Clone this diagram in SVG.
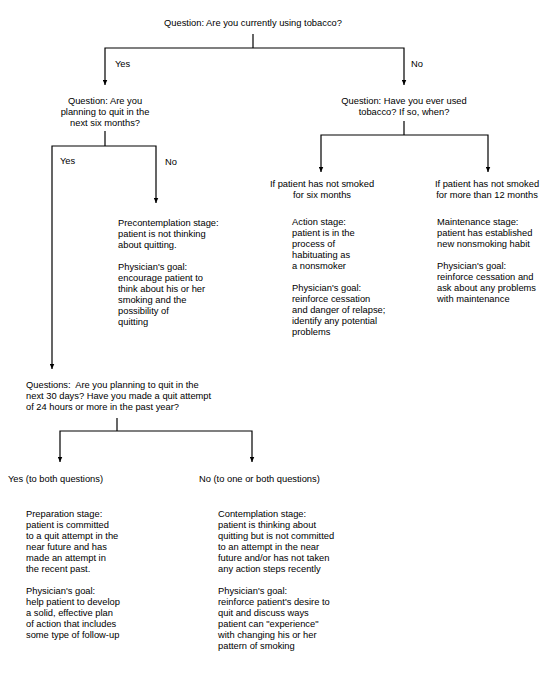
<svg xmlns="http://www.w3.org/2000/svg" width="554" height="681" viewBox="0 0 554 681">
<style>
text{font-family:"Liberation Sans",Arial,sans-serif;font-size:9.33px;fill:#000;white-space:pre}
.c{text-anchor:middle}
.ln{fill:none;stroke:#000;stroke-width:1.2}
</style>
<defs>
<marker id="ah" viewBox="0 0 6 6" refX="6" refY="3" markerWidth="5" markerHeight="5" markerUnits="userSpaceOnUse" orient="auto">
<path d="M0,0.3 L6,3 L0,5.7 z" fill="#000"/>
</marker>
</defs>
<rect width="554" height="681" fill="#fff"/>
<g id="connectors">
<path class="ln" d="M253,34 V48"/>
<path class="ln" d="M253,48 H105 V85" marker-end="url(#ah)"/>
<path class="ln" d="M253,48 H404 V85" marker-end="url(#ah)"/>
<path class="ln" d="M105,131 V146"/>
<path class="ln" d="M105,146 H52 V369" marker-end="url(#ah)"/>
<path class="ln" d="M105,146 H156 V203" marker-end="url(#ah)"/>
<path class="ln" d="M404,121 V135"/>
<path class="ln" d="M404,135 H321 V172" marker-end="url(#ah)"/>
<path class="ln" d="M404,135 H488 V172" marker-end="url(#ah)"/>
<path class="ln" d="M117,418 V431"/>
<path class="ln" d="M117,431 H60 V462" marker-end="url(#ah)"/>
<path class="ln" d="M117,431 H252 V462" marker-end="url(#ah)"/>
</g>
<g id="labels">
<text x="115" y="67">Yes</text>
<text x="411" y="67">No</text>
<text x="60" y="164">Yes</text>
<text x="165" y="165">No</text>
</g>
<g id="q-tobacco"><text class="c" x="253" y="26">Question: Are you currently using tobacco?</text></g>
<g id="q-six-months">
<text class="c" x="105" y="104">Question: Are you</text>
<text class="c" x="105" y="115">planning to quit in the</text>
<text class="c" x="105" y="126">next six months?</text>
</g>
<g id="q-ever-used">
<text class="c" x="404" y="104">Question: Have you ever used</text>
<text class="c" x="404" y="115">tobacco? If so, when?</text>
</g>
<g id="precontemplation">
<text x="118" y="226">Precontemplation stage:</text>
<text x="118" y="237">patient is not thinking</text>
<text x="118" y="248">about quitting.</text>
<text x="118" y="270">Physician's goal:</text>
<text x="118" y="281">encourage patient to</text>
<text x="118" y="292">think about his or her</text>
<text x="118" y="303">smoking and the</text>
<text x="118" y="314">possibility of</text>
<text x="118" y="325">quitting</text>
</g>
<g id="six-months">
<text class="c" x="322" y="187">If patient has not smoked</text>
<text class="c" x="322" y="198">for six months</text>
</g>
<g id="twelve-months">
<text class="c" x="487" y="187">If patient has not smoked</text>
<text class="c" x="487" y="198">for more than 12 months</text>
</g>
<g id="action">
<text x="292" y="225">Action stage:</text>
<text x="292" y="236">patient is in the</text>
<text x="292" y="247">process of</text>
<text x="292" y="258">habituating as</text>
<text x="292" y="269">a nonsmoker</text>
<text x="292" y="291">Physician's goal:</text>
<text x="292" y="302">reinforce cessation</text>
<text x="292" y="313">and danger of relapse;</text>
<text x="292" y="324">identify any potential</text>
<text x="292" y="335">problems</text>
</g>
<g id="maintenance">
<text x="437" y="225">Maintenance stage:</text>
<text x="437" y="236">patient has established</text>
<text x="437" y="247">new nonsmoking habit</text>
<text x="437" y="269">Physician's goal:</text>
<text x="437" y="280">reinforce cessation and</text>
<text x="437" y="291">ask about any problems</text>
<text x="437" y="302">with maintenance</text>
</g>
<g id="q-thirty-days">
<text x="26" y="388">Questions:  Are you planning to quit in the</text>
<text x="26" y="399">next 30 days? Have you made a quit attempt</text>
<text x="26" y="410">of 24 hours or more in the past year?</text>
</g>
<g id="yes-both"><text x="8" y="482">Yes (to both questions)</text></g>
<g id="no-one-or-both"><text x="199" y="482">No (to one or both questions)</text></g>
<g id="preparation">
<text x="26" y="517">Preparation stage:</text>
<text x="26" y="528">patient is committed</text>
<text x="26" y="539">to a quit attempt in the</text>
<text x="26" y="550">near future and has</text>
<text x="26" y="561">made an attempt in</text>
<text x="26" y="572">the recent past.</text>
<text x="26" y="594">Physician's goal:</text>
<text x="26" y="605">help patient to develop</text>
<text x="26" y="616">a solid, effective plan</text>
<text x="26" y="627">of action that includes</text>
<text x="26" y="638">some type of follow-up</text>
</g>
<g id="contemplation">
<text x="218" y="517">Contemplation stage:</text>
<text x="218" y="528">patient is thinking about</text>
<text x="218" y="539">quitting but is not committed</text>
<text x="218" y="550">to an attempt in the near</text>
<text x="218" y="561">future and/or has not taken</text>
<text x="218" y="572">any action steps recently</text>
<text x="218" y="594">Physician's goal:</text>
<text x="218" y="605">reinforce patient's desire to</text>
<text x="218" y="616">quit and discuss ways</text>
<text x="218" y="627">patient can "experience"</text>
<text x="218" y="638">with changing his or her</text>
<text x="218" y="649">pattern of smoking</text>
</g>
</svg>
